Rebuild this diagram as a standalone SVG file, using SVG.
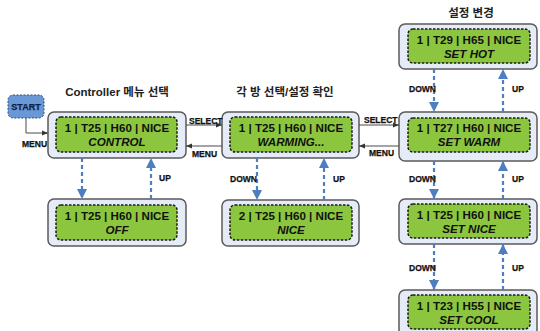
<svg xmlns="http://www.w3.org/2000/svg" width="540" height="331" viewBox="0 0 540 331">
<defs>
<style>
.outer{fill:#e5ecf7;stroke:#5a5a5a;stroke-width:1.5}
.inner{fill:#8cc63e;stroke:#1a1a1a;stroke-width:1.5;stroke-dasharray:2.5 1.5}
.t1{font-family:"Liberation Sans",Arial,sans-serif;font-weight:bold;font-size:11.6px;fill:#111;text-anchor:middle}
.t2{font-family:"Liberation Sans",Arial,sans-serif;font-weight:bold;font-style:italic;font-size:11.6px;fill:#111;text-anchor:middle}
.title{font-family:"Liberation Sans","Noto Sans CJK KR",sans-serif;font-weight:bold;font-size:11.5px;fill:#222;text-anchor:middle}
.lbl{font-family:"Liberation Sans Narrow","Liberation Sans",Arial,sans-serif;font-weight:bold;font-size:8.5px;fill:#111;stroke:#111;stroke-width:0.25}
.flow{stroke:#4a4a4a;stroke-width:1;fill:none}
.dash{stroke:#4d7fc0;stroke-width:2.2;stroke-dasharray:4 3;fill:none}
</style>
<marker id="ah" viewBox="0 0 10 10" refX="10" refY="5" markerWidth="6" markerHeight="6" orient="auto" markerUnits="userSpaceOnUse">
<path d="M0,1 L10,5 L0,9 z" fill="#333"/>
</marker>
<marker id="bh" viewBox="0 0 10 10" refX="10" refY="5" markerWidth="10" markerHeight="11" orient="auto" markerUnits="userSpaceOnUse">
<path d="M0,0 L10,5 L0,10 z" fill="#4d7fc0"/>
</marker>
</defs>
<rect width="540" height="331" fill="#ffffff"/>

<text class="title" x="117" y="96">Controller 메뉴 선택</text>
<text class="title" x="285" y="96">각 방 선택/설정 확인</text>
<text class="title" x="471" y="17">설정 변경</text>

<g id="start">
<rect x="8" y="95" width="36" height="23" rx="5" fill="#6a97d6" stroke="#2d4f80" stroke-width="1" stroke-dasharray="2 1.5"/>
<text class="lbl" x="26" y="109.5" text-anchor="middle" style="font-size:9px;fill:#0d1f40;stroke:#0d1f40">START</text>
</g>

<g id="control">
<rect class="outer" x="48" y="112" width="138" height="46" rx="6"/>
<rect class="inner" x="56" y="117" width="121" height="35" rx="5"/>
<text class="t1" x="117" y="132">1 | T25 | H60 | NICE</text>
<text class="t2" x="117" y="146">CONTROL</text>
</g>

<g id="off">
<rect class="outer" x="48" y="199" width="138" height="47" rx="6"/>
<rect class="inner" x="56" y="205" width="121" height="35" rx="5"/>
<text class="t1" x="117" y="220">1 | T25 | H60 | NICE</text>
<text class="t2" x="117" y="234">OFF</text>
</g>

<g id="warming">
<rect class="outer" x="222" y="112" width="137" height="46" rx="6"/>
<rect class="inner" x="230" y="117" width="122" height="35" rx="5"/>
<text class="t1" x="291" y="132">1 | T25 | H60 | NICE</text>
<text class="t2" x="291" y="146">WARMING...</text>
</g>

<g id="nice">
<rect class="outer" x="222" y="200" width="137" height="46" rx="6"/>
<rect class="inner" x="230" y="205" width="122" height="35" rx="5"/>
<text class="t1" x="291" y="220">2 | T25 | H60 | NICE</text>
<text class="t2" x="291" y="234">NICE</text>
</g>

<g id="sethot">
<rect class="outer" x="399" y="24" width="138" height="45" rx="6"/>
<rect class="inner" x="408" y="29" width="122" height="34" rx="5"/>
<text class="t1" x="469" y="44">1 | T29 | H65 | NICE</text>
<text class="t2" x="469" y="58">SET HOT</text>
</g>

<g id="setwarm">
<rect class="outer" x="399" y="112" width="138" height="49" rx="6"/>
<rect class="inner" x="408" y="118" width="122" height="34" rx="5"/>
<text class="t1" x="469" y="132">1 | T27 | H60 | NICE</text>
<text class="t2" x="469" y="146">SET WARM</text>
</g>

<g id="setnice">
<rect class="outer" x="399" y="199" width="138" height="45" rx="6"/>
<rect class="inner" x="408" y="204" width="122" height="34" rx="5"/>
<text class="t1" x="469" y="219">1 | T25 | H60 | NICE</text>
<text class="t2" x="469" y="233">SET NICE</text>
</g>

<g id="setcool">
<rect class="outer" x="399" y="290" width="138" height="50" rx="6"/>
<rect class="inner" x="408" y="295" width="122" height="34" rx="5"/>
<text class="t1" x="469" y="310">1 | T23 | H55 | NICE</text>
<text class="t2" x="469" y="324">SET COOL</text>
</g>

<g id="connectors">
<path class="flow" d="M26,118 V133 H48" marker-end="url(#ah)"/>
<path class="flow" d="M186,125 H222" marker-end="url(#ah)"/>
<path class="flow" d="M222,146 H186" marker-end="url(#ah)"/>
<path class="flow" d="M359,125 H399" marker-end="url(#ah)"/>
<path class="flow" d="M399,146 H359" marker-end="url(#ah)"/>

<path class="dash" d="M82,158 V199" marker-end="url(#bh)"/>
<path class="dash" d="M151,199 V158" marker-end="url(#bh)"/>
<path class="dash" d="M257,158 V200" marker-end="url(#bh)"/>
<path class="dash" d="M324,200 V158" marker-end="url(#bh)"/>
<path class="dash" d="M434,69 V112" marker-end="url(#bh)"/>
<path class="dash" d="M503,112 V69" marker-end="url(#bh)"/>
<path class="dash" d="M434,161 V199" marker-end="url(#bh)"/>
<path class="dash" d="M503,199 V161" marker-end="url(#bh)"/>
<path class="dash" d="M434,244 V290" marker-end="url(#bh)"/>
<path class="dash" d="M503,290 V244" marker-end="url(#bh)"/>

<text class="lbl" x="22" y="147">MENU</text>
<text class="lbl" x="189" y="124">SELECT</text>
<text class="lbl" x="192" y="157">MENU</text>
<text class="lbl" x="364" y="123">SELECT</text>
<text class="lbl" x="369" y="156">MENU</text>
<text class="lbl" x="159" y="181">UP</text>
<text class="lbl" x="230" y="182">DOWN</text>
<text class="lbl" x="333" y="182">UP</text>
<text class="lbl" x="409" y="92">DOWN</text>
<text class="lbl" x="512" y="92">UP</text>
<text class="lbl" x="409" y="182">DOWN</text>
<text class="lbl" x="512" y="182">UP</text>
<text class="lbl" x="409" y="271">DOWN</text>
<text class="lbl" x="512" y="271">UP</text>
</g>
</svg>
